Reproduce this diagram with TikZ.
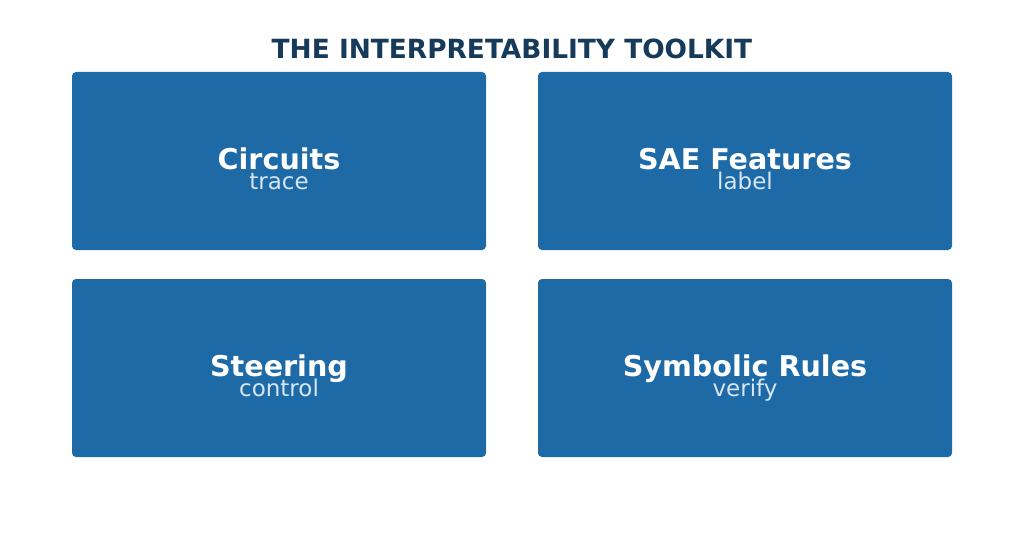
\documentclass[tikz,border=0pt]{standalone}
\usepackage{fontspec}
\setmainfont{DejaVu Sans}
\definecolor{boxblue}{HTML}{1D6AA7}
\definecolor{titlenavy}{HTML}{163A5A}
\definecolor{subtxt}{HTML}{D6E6F4}
\begin{document}
\begin{tikzpicture}[x=1pt,y=-1pt,
  card/.style={fill=boxblue, draw=none, rounded corners=4pt},
  head/.style={anchor=base, text=white, font=\bfseries\fontsize{28.6}{32}\selectfont, inner sep=0pt},
  sub/.style={anchor=base, text=subtxt, font=\fontsize{23}{27}\selectfont, inner sep=0pt},
  ttl/.style={anchor=base, text=titlenavy, font=\bfseries\fontsize{26.4}{30}\selectfont, inner sep=0pt}]
\useasboundingbox[fill=white] (0,0) rectangle (1024,548);
\node[ttl] (title) at (512,58.5) {THE INTERPRETABILITY TOOLKIT};
\fill[card] (72,72) rectangle (486,250);
\fill[card] (538,72) rectangle (952,250);
\fill[card] (72,279) rectangle (486,457);
\fill[card] (538,279) rectangle (952,457);
\node[head] (h1) at (279,169) {Circuits};
\node[sub] (s1) at (279,189.5) {trace};
\node[head] (h2) at (745,169) {SAE Features};
\node[sub] (s2) at (745,189.5) {label};
\node[head] (h3) at (279,376) {Steering};
\node[sub] (s3) at (279,396.5) {control};
\node[head] (h4) at (745,376) {Symbolic Rules};
\node[sub] (s4) at (745,396.5) {verify};
\end{tikzpicture}
\end{document}
